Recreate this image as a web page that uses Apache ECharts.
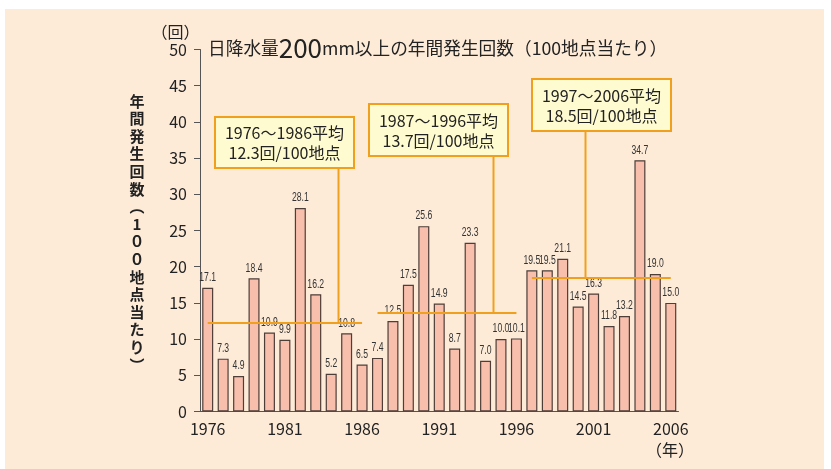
<!DOCTYPE html>
<html>
<head>
<meta charset="UTF-8">
<title>日降水量200mm以上の年間発生回数</title>
<script src="https://cdn.jsdelivr.net/npm/echarts@6/dist/echarts.min.js"></script>
<style>
  html, body { margin: 0; padding: 0; background: #fff; }
</style>
</head>
<body>
    <div id="main" style="width: 831px;height:469px;"></div>

    <script type="text/javascript">
    // 年（横軸）
    var years = [];
    for (var y = 1976; y <= 2006; y++) { years.push(String(y)); }
    // 年間発生回数（100地点当たり）
    var counts = [17.1, 7.3, 4.9, 18.4, 10.9, 9.9, 28.1, 16.2, 5.2, 10.8,
                  6.5, 7.4, 12.5, 17.5, 25.6, 14.9, 8.7, 23.3, 7.0, 10.0,
                  10.1, 19.5, 19.5, 21.1, 14.5, 16.3, 11.8, 13.2, 34.7, 19.0, 15.0];
    // 期間平均
    var periodStart = ['1976', '1987', '1997'];
    var periodEnd = ['1986', '1996', '2006'];
    var periodAvg = [12.3, 13.7, 18.5];
    var periodText = [
        ['1976～1986平均', '12.3回/100地点'],
        ['1987～1996平均', '13.7回/100地点'],
        ['1997～2006平均', '18.5回/100地点']
    ];
    var yTicks = [0, 50, 5]; // min, max, interval

    var orange = '#f0a01c';
    var cjk = '"Noto Sans CJK JP", "Noto Sans", sans-serif';

    var myChart = echarts.init(document.getElementById('main'));

    var avgLines = [];
    for (var i = 0; i < periodAvg.length; i++) {
        avgLines.push([
            { coord: [periodStart[i], periodAvg[i]] },
            { coord: [periodEnd[i], periodAvg[i]] }
        ]);
    }
    // 値ラベル用（カテゴリ番号, 値）
    var labelData = counts.map(function (v, idx) { return [idx, v]; });

    var option = {
        animation: false,
        grid: { left: 200, right: 152.5, top: 49.5, bottom: 57.5 },
        xAxis: {
            type: 'category',
            data: years,
            axisLine: { lineStyle: { color: '#555', width: 1 } },
            axisTick: { show: false },
            axisLabel: {
                interval: 4,
                margin: 9,
                color: '#222',
                fontSize: 16,
                fontFamily: cjk
            }
        },
        yAxis: {
            type: 'value',
            min: yTicks[0],
            max: yTicks[1],
            interval: yTicks[2],
            axisLine: { show: true, lineStyle: { color: '#555', width: 1 } },
            axisTick: { show: true, inside: false, length: 6, lineStyle: { color: '#555' } },
            splitLine: { show: false },
            axisLabel: {
                margin: 13,
                color: '#222',
                fontSize: 16,
                fontFamily: cjk
            }
        },
        series: [{
            type: 'bar',
            data: counts,
            barWidth: 11,
            itemStyle: {
                color: '#f8bfad',
                borderColor: '#4e3e38',
                borderWidth: 1.2
            },
            markLine: {
                silent: true,
                symbol: ['none', 'none'],
                label: { show: false },
                lineStyle: { color: orange, width: 2, type: 'solid' },
                z: 5,
                data: avgLines
            }
        }, {
            // 細い数字ラベル（横方向に縮めて描く）
            type: 'custom',
            data: labelData,
            z: 3,
            silent: true,
            renderItem: function (params, api) {
                var p = api.coord([api.value(0), api.value(1)]);
                return {
                    type: 'text',
                    x: p[0],
                    y: p[1] - 4,
                    scaleX: 0.72,
                    style: {
                        text: api.value(1).toFixed(1),
                        fontSize: 12,
                        fontFamily: '"Liberation Sans", "DejaVu Sans", sans-serif',
                        fill: '#333',
                        align: 'center',
                        verticalAlign: 'bottom'
                    }
                };
            }
        }]
    };
    myChart.setOption(option);

    // 注記ボックス（位置はレイアウト）
    var boxes = [
        { x: 215, y: 117, w: 139, h: 51, lineX: 338.5 },
        { x: 369, y: 104, w: 139, h: 52, lineX: 493.5 },
        { x: 532, y: 79, w: 139, h: 52, lineX: 585.5 }
    ];

    var graphics = [
        {
            type: 'rect',
            z: -10,
            shape: { x: 5, y: 9, width: 819, height: 460 },
            style: { fill: '#fdebd8' }
        },
        {
            type: 'text',
            left: 208, top: 35,
            style: {
                text: '{a|日降水量}{b|200}{a|mm以上の年間発生回数（100地点当たり）}',
                rich: {
                    a: { fontSize: 17.7, fontFamily: cjk, fill: '#222' },
                    b: { fontSize: 26, fontFamily: cjk, fill: '#222' }
                }
            }
        },
        {
            type: 'text',
            x: 175.5, y: 31.5,
            style: {
                text: '（回）', fontSize: 16, fontFamily: cjk, fill: '#222',
                align: 'center', verticalAlign: 'middle'
            }
        },
        {
            type: 'text',
            x: 670, y: 450,
            style: {
                text: '（年）', fontSize: 16, fontFamily: cjk, fill: '#222',
                align: 'center', verticalAlign: 'middle'
            }
        },
        {
            type: 'text',
            x: 137, y: 92,
            style: {
                text: '年間発生回数︵1００地点当たり︶'.split('').join('\n'),
                fontSize: 15, lineHeight: 17.6, fontFamily: cjk, fill: '#222',
                fontWeight: 'bold',
                align: 'center', verticalAlign: 'top'
            }
        }
    ];

    for (var k = 0; k < boxes.length; k++) {
        var b = boxes[k];
        var lineY = myChart.convertToPixel({ gridIndex: 0 }, [0, periodAvg[k]])[1];
        graphics.push({
            type: 'line',
            z: 20,
            shape: { x1: b.lineX, y1: b.y + b.h, x2: b.lineX, y2: lineY },
            style: { stroke: orange, lineWidth: 2 }
        });
        graphics.push({
            type: 'rect',
            z: 21,
            shape: { x: b.x, y: b.y, width: b.w, height: b.h },
            style: { fill: '#fffbd0', stroke: orange, lineWidth: 2 }
        });
        graphics.push({
            type: 'text',
            z: 22,
            x: b.x + b.w / 2, y: b.y + b.h / 2 + 0.5,
            style: {
                text: periodText[k].join('\n'),
                fontSize: 16, lineHeight: 20, fontFamily: cjk, fill: '#222',
                align: 'center', verticalAlign: 'middle'
            }
        });
    }

    myChart.setOption({ graphic: graphics });
    </script>
</body>
</html>
